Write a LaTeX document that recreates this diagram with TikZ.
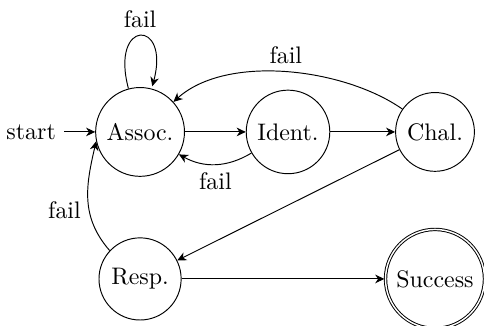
\documentclass[tikz,border=0pt]{standalone}
\usepackage{amsmath}
\usetikzlibrary{arrows.meta,automata,positioning}

\begin{document}
\begin{tikzpicture}[
    >={Stealth[length=3.8pt,width=3.6pt,inset=1.2pt]},
    every state/.style={draw, minimum size=0pt},
    flow/.style={->},
    every node/.style={font=\normalsize}
]

\useasboundingbox (-58.6pt,-80.8pt) rectangle (143.9pt,55.2pt);

% States
\node[state, initial] (assoc) at (0pt,0pt) {Assoc.};
\node[state] (ident) at (61.9pt,0pt) {Ident.};
\node[state] (chal) at (123.4pt,0pt) {Chal.};
\node[state] (resp) at (0pt,-61.5pt) {Resp.};
\node[state, accepting] (success) at (123.4pt,-61.5pt) {Success};

% Transitions
\draw[flow] (assoc) edge[loop above] node[above] {fail} (assoc);
\draw[flow] (assoc) -- (ident);
\draw[flow] (ident) -- (chal);
\draw[flow] (ident) to[bend left=30] node[below] {fail} (assoc);
\draw[flow] (chal) to[out=145, in=42, looseness=0.8] node[above] {fail} (assoc);
\draw[flow] (chal) -- (resp);
\draw[flow] (resp.137) to[out=131, in=257, looseness=1.05] node[left, pos=0.4] {fail} (assoc.192);
\draw[flow] (resp) -- (success);

\end{tikzpicture}
\end{document}
